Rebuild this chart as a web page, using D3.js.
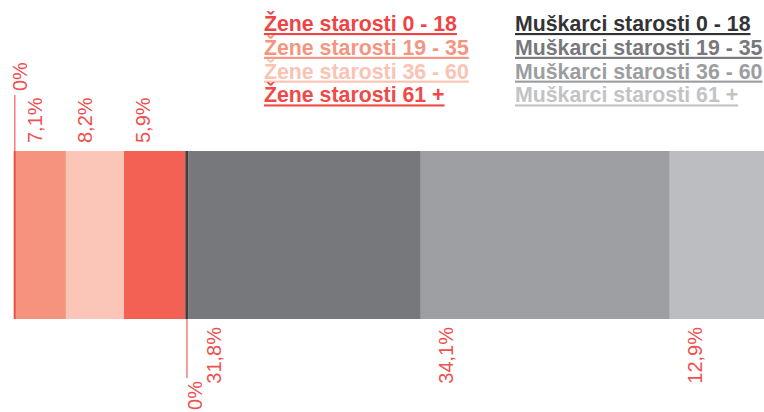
<!DOCTYPE html>
<html><head><meta charset="utf-8">
<script src="https://cdn.jsdelivr.net/npm/d3@7"></script>
<style>
html,body{margin:0;padding:0;background:#fff;}
svg{display:block;}
text{font-family:"Liberation Sans",Arial,Helvetica,sans-serif;}
</style></head>
<body>
<svg id="chart" width="764" height="412"></svg>
<script>
// ---- data ----
const categories = ["Žene starosti 0 - 18","Žene starosti 19 - 35","Žene starosti 36 - 60","Žene starosti 61 +",
                    "Muškarci starosti 0 - 18","Muškarci starosti 19 - 35","Muškarci starosti 36 - 60","Muškarci starosti 61 +"];
const groups = ["w","w","w","w","m","m","m","m"];
// bar sizes (share units)
const values = [0.3, 6.85, 7.95, 8.4, 0.45, 31.8, 34.1, 12.9];
// printed labels
const labels = ["0%","7,1%","8,2%","5,9%","0%","31,8%","34,1%","12,9%"];
const barColors = ["#ef4b47","#f5937e","#fbc6b7","#f26153","#3f3f42","#77787c","#9e9fa3","#bcbdc0"];
const legendColors = ["#ee4444","#f5957f","#fbc3b3","#ef4a47","#333336","#77787b","#9c9da0","#c2c3c5"];

const svg = d3.select("#chart");
const barTop = 151, barBottom = 319;
const labelColor = "#ef5050";

const total = d3.sum(values);
const x = d3.scaleLinear().domain([0, total]).range([13.7, 764]);

const stacked = [];
let acc = 0;
values.forEach((v, i) => { stacked.push({i, v, x0: acc, x1: acc + v, label: labels[i], group: groups[i]}); acc += v; });

// bars
svg.append("g").selectAll("rect").data(stacked).join("rect")
  .attr("x", d => x(d.x0))
  .attr("y", barTop)
  .attr("width", d => x(d.x1) - x(d.x0))
  .attr("height", barBottom - barTop)
  .attr("fill", d => barColors[d.i]);

// labels
const lg = svg.append("g").attr("fill", labelColor).attr("font-size", 20);
stacked.forEach(d => {
  const xs = x(d.x0);
  const zero = d.label === "0%";
  if (d.group === "w") {
    if (zero) {
      const xc = (x(d.x0) + x(d.x1)) / 2;
      svg.append("line").attr("x1", xc).attr("x2", xc).attr("y1", 95).attr("y2", barTop)
        .attr("stroke", "#f06a66").attr("stroke-width", 1.3);
      lg.append("text").attr("transform", `translate(${xc + 12},91) rotate(-90)`)
        .attr("text-anchor", "start").text(d.label);
    } else {
      lg.append("text").attr("transform", `translate(${xs + 26},143) rotate(-90)`)
        .attr("text-anchor", "start").text(d.label);
    }
  } else {
    if (zero) {
      const xc = (x(d.x0) + x(d.x1)) / 2;
      svg.append("line").attr("x1", xc).attr("x2", xc).attr("y1", barBottom).attr("y2", 378)
        .attr("stroke", "#f06a66").attr("stroke-width", 1.3);
      lg.append("text").attr("transform", `translate(${xc + 15},381) rotate(-90)`)
        .attr("text-anchor", "end").text(d.label);
    } else {
      lg.append("text").attr("transform", `translate(${xs + 32},327) rotate(-90)`)
        .attr("text-anchor", "end").text(d.label);
    }
  }
});

// legend
const legend = svg.append("g").attr("font-size", 21.3).attr("font-weight", "bold");
categories.forEach((c, i) => {
  const col = i < 4 ? 0 : 1;
  const row = i % 4;
  legend.append("text")
    .attr("x", col === 0 ? 264 : 515)
    .attr("y", 31 + row * 23.8)
    .attr("fill", legendColors[i])
    .style("text-decoration", "underline")
    .text(c);
});
</script>
</body></html>
